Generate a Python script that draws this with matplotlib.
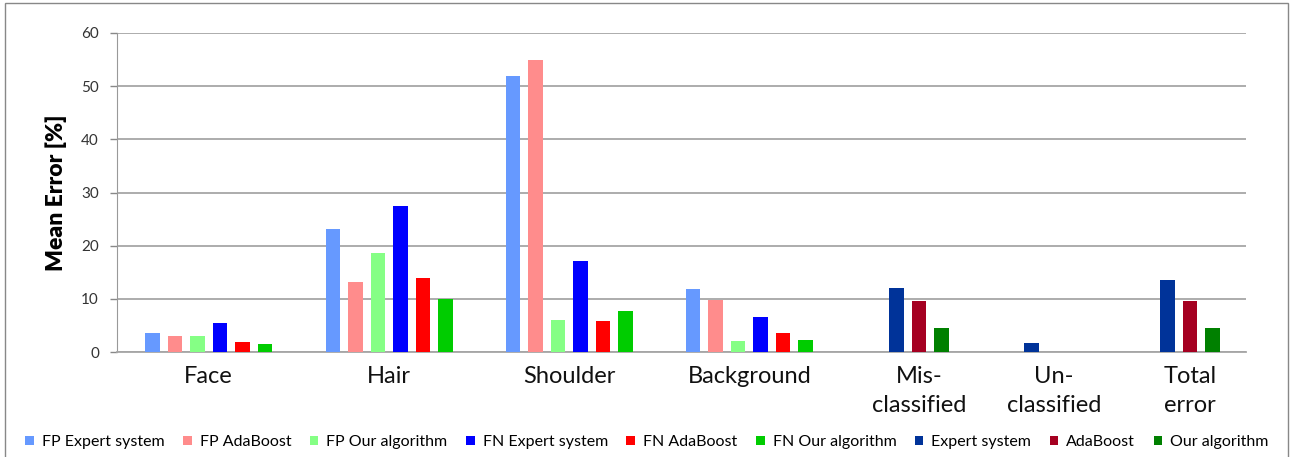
import numpy as np
import matplotlib
matplotlib.use('Agg')
from matplotlib import pyplot as plt
from matplotlib.patches import Rectangle

plt.rcParams['font.family'] = ['Lato', 'DejaVu Sans']

categories = ['Face', 'Hair', 'Shoulder', 'Background',
              'Mis-\nclassified', 'Un-\nclassified', 'Total\nerror']

# per-region errors (first four categories)
fp_expert = [3.5, 23.1, 51.9, 11.8]
fp_ada = [3.0, 13.1, 54.9, 9.7]
fp_our = [3.0, 18.7, 6.0, 2.1]
fn_expert = [5.4, 27.4, 17.1, 6.6]
fn_ada = [1.9, 14.0, 5.8, 3.6]
fn_our = [1.45, 10.0, 7.8, 2.3]

# overall errors (last three categories)
expert = [12.0, 1.7, 13.6]
ada = [9.6, 0, 9.5]
our = [4.5, 0, 4.5]

region_series = [
    ('FP Expert system', fp_expert, '#6699ff'),
    ('FP AdaBoost', fp_ada, '#ff8c8c'),
    ('FP Our algorithm', fp_our, '#85ff85'),
    ('FN Expert system', fn_expert, '#0000ff'),
    ('FN AdaBoost', fn_ada, '#ff0000'),
    ('FN Our algorithm', fn_our, '#00cc00'),
]
total_series = [
    ('Expert system', expert, '#003399'),
    ('AdaBoost', ada, '#a50021'),
    ('Our algorithm', our, '#008000'),
]

# group left edges in slot units (one slot per bar)
group_left = np.array([1.245, 9.276, 17.27, 25.28, 34.32, 40.32, 46.36])
bw = 0.645

fig = plt.figure(figsize=(12.94, 4.57), dpi=100)
ax = fig.add_axes([117/1294, 1-352/457, (1246-117)/1294, (352-33)/457])

for k, (name, vals, col) in enumerate(region_series):
    ax.bar(group_left[:4] + k, vals, width=bw, align='edge', color=col,
           label=name, zorder=3)
for k, (name, vals, col) in enumerate(total_series):
    ax.bar(group_left[4:] + k, vals, width=bw, align='edge', color=col,
           label=name, zorder=3)

centers = np.concatenate([group_left[:4] + (5 + bw)/2, group_left[4:] + (2 + bw)/2])
ax.set_xticks(centers)
ax.set_xticklabels(categories, fontsize=17, linespacing=1.45, color='#111111')
ax.tick_params(axis='x', length=0, pad=10)

ax.set_xlim(0, (1246-117)/22.5)
ax.set_ylim(0, 60)
ax.set_yticks(range(0, 61, 10))
ax.tick_params(axis='y', length=5, width=1, color='#888888', pad=8,
               labelsize=11, labelcolor='#333333')
ax.yaxis.grid(True, color='#a6a6a6', linewidth=1.3, zorder=0)
ax.set_axisbelow(True)

for s in ['top', 'right']:
    ax.spines[s].set_visible(False)
ax.spines['left'].set_color('#999999')
ax.spines['bottom'].set_color('#a6a6a6')
ax.spines['bottom'].set_linewidth(1.3)

ax.set_ylabel('Mean Error [%]', fontsize=16.5, fontweight='heavy', labelpad=10)

fig.legend(loc='center', bbox_to_anchor=(647/1294, 1-442/457), ncol=9,
           frameon=False, fontsize=11.5, handlelength=0.55, handleheight=0.55,
           handletextpad=0.5, columnspacing=1.15, borderaxespad=0)

fig.patches.append(Rectangle((5/1294, -0.1), (1288-5)/1294, 1.1 - 3/457,
                             transform=fig.transFigure, fill=False,
                             edgecolor='#888888', linewidth=1))

plt.savefig('out.png', dpi=100)
